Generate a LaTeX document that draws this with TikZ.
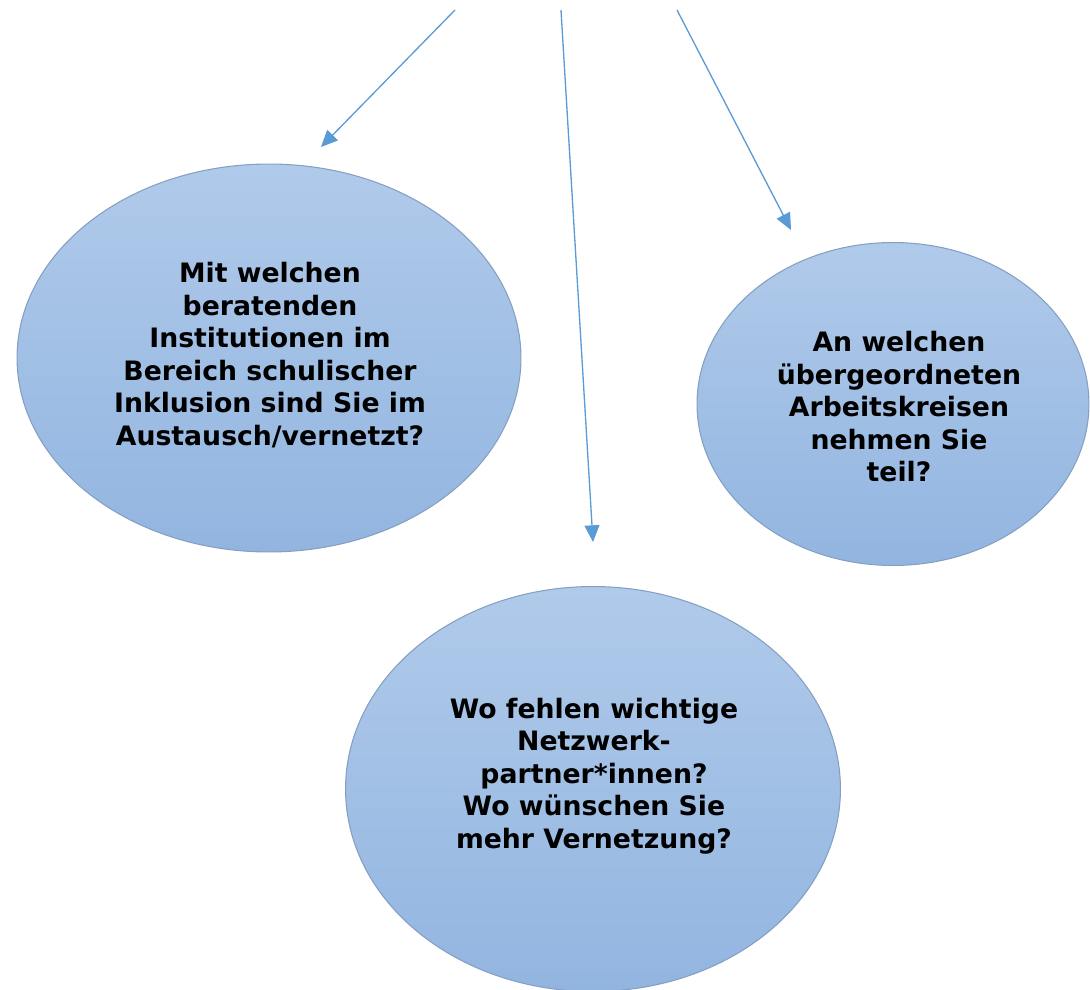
\documentclass[tikz,border=0pt]{standalone}
\usepackage{fontspec}
\setmainfont{DejaVu Sans}
\usetikzlibrary{shapes.geometric,arrows.meta}

\definecolor{bubbletop}{HTML}{B0CAEA}
\definecolor{bubblebottom}{HTML}{92B5E0}
\definecolor{bubbleline}{HTML}{859FC2}
\definecolor{linkblue}{HTML}{5B9BD5}

\tikzset {
  bubble style/.style = {
    ellipse,
    inner sep=0pt,
    line width=0.6pt,
    draw=bubbleline,
    top color=bubbletop,
    bottom color=bubblebottom
  },
  question style/.style = {
    align=center,
    inner sep=0pt,
    font=\fontsize{15.2}{18.5}\selectfont\bfseries
  },
  link style/.style = {
    draw=linkblue,
    line width=0.75pt,
    -{Triangle[length=9.5pt,width=8.5pt]}
  }
}

\begin{document}
\begin{tikzpicture}[x=0.02cm, y=-0.02cm]

\useasboundingbox (0,0) rectangle (1090,990);

% --- Ellipses ---
\node[bubble style, minimum width=10.08cm, minimum height=7.76cm] (bubbleL) at (269,358) {};
\node[bubble style, minimum width=7.84cm, minimum height=6.46cm] (bubbleR) at (893,404) {};
\node[bubble style, minimum width=9.9cm, minimum height=8.1cm] (bubbleB) at (593,789) {};

% --- Questions ---
\node[question style] (questL) at (270,355) {Mit welchen\\beratenden\\Institutionen im\\Bereich schulischer\\Inklusion sind Sie im\\Austausch/vernetzt?};
\node[question style] (questR) at (899,407) {An welchen\\übergeordneten\\Arbeitskreisen\\nehmen Sie\\teil?};
\node[question style] (questB) at (594,776) {Wo fehlen wichtige\\Netzwerk-\\partner*innen?\\Wo wünschen Sie\\mehr Vernetzung?};

% --- Arrows from the top ---
\coordinate (srcL) at (455,10);
\coordinate (srcB) at (561,10);
\coordinate (srcR) at (677,10);
\coordinate (tipL) at (321,147);
\coordinate (tipB) at (593,542);
\coordinate (tipR) at (791,230);

\draw[link style] (srcL) -- (tipL);
\draw[link style] (srcB) -- (tipB);
\draw[link style] (srcR) -- (tipR);

\end{tikzpicture}
\end{document}
